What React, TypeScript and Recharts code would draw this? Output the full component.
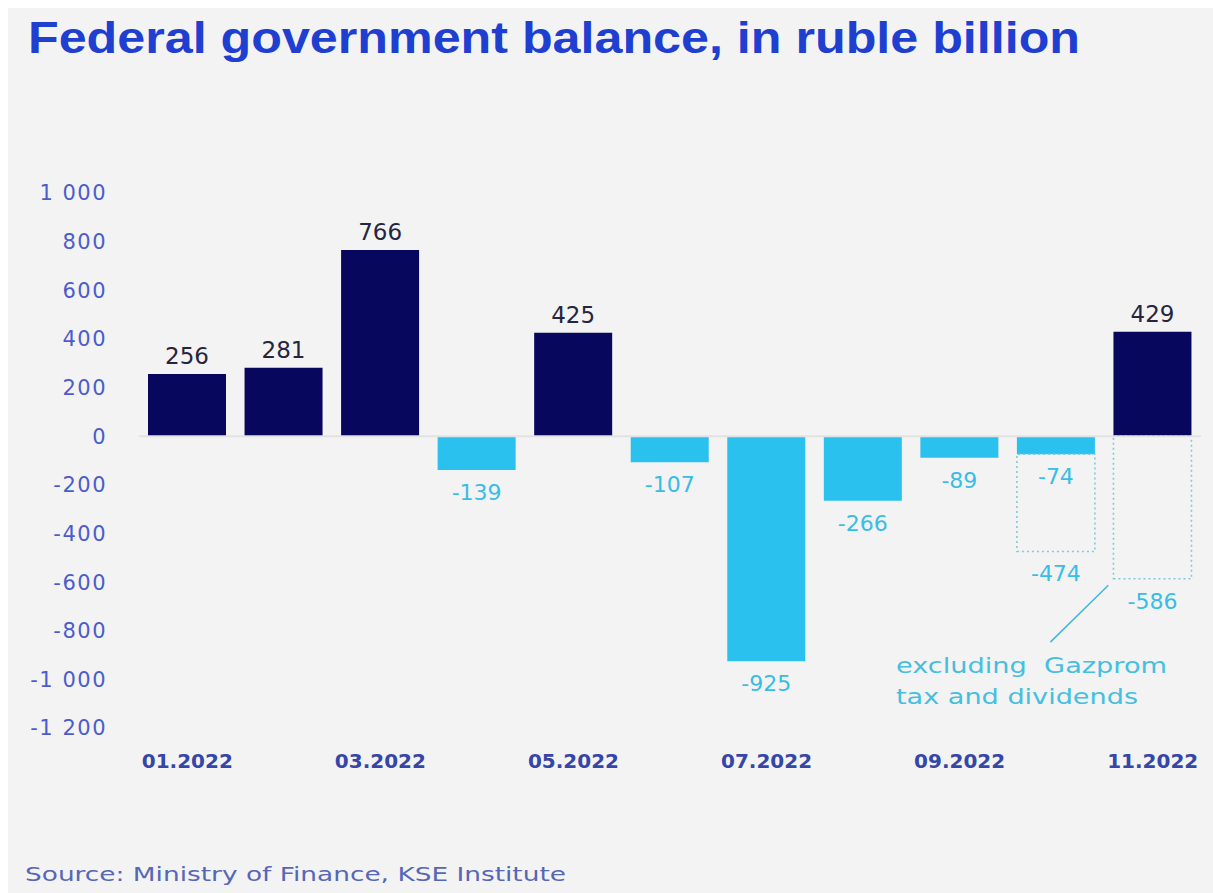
import React from 'react';
import { BarChart, Bar, XAxis, YAxis, Cell, LabelList, ReferenceLine } from 'recharts';

// Monthly federal budget balance, ruble billion
const months = [
  '01.2022', '02.2022', '03.2022', '04.2022', '05.2022', '06.2022',
  '07.2022', '08.2022', '09.2022', '10.2022', '11.2022',
];
const balance = [256, 281, 766, -139, 425, -107, -925, -266, -89, -74, 429];
// Balance excluding Gazprom tax and dividends (reported for Oct and Nov only)
const balanceExGazprom: (number | null)[] = [null, null, null, null, null, null, null, null, null, -474, -586];
const yTicks = [1000, 800, 600, 400, 200, 0, -200, -400, -600, -800, -1000, -1200];
const Y_DOMAIN: [number, number] = [-1200, 1000];

// Pointer from the note to the November dashed box (x in month slots, y in ruble billion)
const notePointer = [
  { x: 9.44, y: -847 },
  { x: 10.04, y: -613 },
];

const NAVY = '#07075e';
const CYAN = '#2bc1ef';
const CYAN_TEXT = '#38bde6';
const DASH = '#80c9e0';
const FONT = '"DejaVu Sans", sans-serif';

// Chart layout
const W = 1213;
const H = 893;
const MARGIN = { top: 193, right: 12, bottom: 115, left: 59 };
const Y_AXIS_W = 80;
const X_AXIS_H = 50;
const PLOT_L = MARGIN.left + Y_AXIS_W;
const PLOT_R = W - MARGIN.right;
const PLOT_T = MARGIN.top;
const PLOT_B = H - MARGIN.bottom - X_AXIS_H;
const slotX = (s: number) => PLOT_L + (s * (PLOT_R - PLOT_L)) / months.length;
const valueY = (v: number) => PLOT_T + ((Y_DOMAIN[1] - v) / (Y_DOMAIN[1] - Y_DOMAIN[0])) * (PLOT_B - PLOT_T);

const data = months.map((month, i) => {
  const value = balance[i];
  const ex = balanceExGazprom[i];
  return {
    month,
    balance: value,
    exTotal: ex,
    // extra depth stacked under the reported balance
    exGap: ex == null ? null : ex - Math.min(value, 0),
  };
});

const fmtTick = (v: number) => {
  const abs = Math.abs(v);
  const s = abs >= 1000 ? `${Math.floor(abs / 1000)} ${String(abs % 1000).padStart(3, '0')}` : String(abs);
  return v < 0 ? `-${s}` : s;
};

const BalanceLabel = (props: any) => {
  const { x, y, width, height, value } = props;
  if (value == null) return null;
  const top = Math.min(y, y + height);
  const bottom = Math.max(y, y + height);
  const cx = x + width / 2;
  if (value >= 0) {
    return (
      <text x={cx} y={top - 10} textAnchor="middle" fill="#25253f" fontSize={23} fontFamily={FONT}>
        {value}
      </text>
    );
  }
  return (
    <text x={cx} y={bottom + 30} textAnchor="middle" fill={CYAN_TEXT} fontSize={22} fontFamily={FONT}>
      {value}
    </text>
  );
};

const ExLabel = (props: any) => {
  const { x, y, width, height, value } = props;
  if (value == null) return null;
  const bottom = Math.max(y, y + height);
  return (
    <text x={x + width / 2} y={bottom + 30} textAnchor="middle" fill={CYAN_TEXT} fontSize={22} fontFamily={FONT}>
      {value}
    </text>
  );
};

export default function App() {
  return (
    <div style={{ position: 'absolute', left: 0, top: 0, width: W, height: H, background: '#ffffff' }}>
      <div style={{ position: 'absolute', left: 8, top: 8, width: W - 8, height: H - 8, background: '#f3f3f3' }} />
      <div style={{ position: 'absolute', left: 0, top: 0 }}>
        <BarChart width={W} height={H} data={data} stackOffset="sign" margin={MARGIN} barSize={78}>
          <XAxis
            dataKey="month"
            interval={1}
            tickLine={false}
            axisLine={false}
            tickSize={0}
            tickMargin={26}
            height={X_AXIS_H}
            tick={{ fill: '#3546a8', fontSize: 20, fontWeight: 'bold', fontFamily: FONT }}
          />
          <YAxis
            domain={Y_DOMAIN}
            ticks={yTicks}
            interval={0}
            width={Y_AXIS_W}
            tickLine={false}
            axisLine={false}
            tickSize={0}
            tickMargin={32}
            tickFormatter={fmtTick}
            tick={{ fill: '#4b5dcc', fontSize: 21, fontFamily: FONT, style: { letterSpacing: 1.5 } }}
          />
          <ReferenceLine y={0} stroke="#e2e2e2" strokeWidth={2} />
          <Bar dataKey="balance" stackId="s" isAnimationActive={false}>
            {data.map((d) => (
              <Cell key={d.month} fill={d.balance >= 0 ? NAVY : CYAN} />
            ))}
            <LabelList dataKey="balance" content={BalanceLabel} />
          </Bar>
          <Bar
            dataKey="exGap"
            stackId="s"
            fill="none"
            stroke={DASH}
            strokeWidth={1.6}
            strokeDasharray="2 3"
            isAnimationActive={false}
          >
            <LabelList dataKey="exTotal" content={ExLabel} />
          </Bar>
        </BarChart>
      </div>
      <svg width={W} height={H} style={{ position: 'absolute', left: 0, top: 0, pointerEvents: 'none' }}>
        <text
          x={28}
          y={53}
          fill="#1f3fd1"
          fontSize={44}
          fontWeight="bold"
          fontFamily='"Liberation Sans", Arial, sans-serif'
          textLength={1052}
          lengthAdjust="spacingAndGlyphs"
        >
          Federal government balance, in ruble billion
        </text>
        <line
          x1={slotX(notePointer[0].x)}
          y1={valueY(notePointer[0].y)}
          x2={slotX(notePointer[1].x)}
          y2={valueY(notePointer[1].y)}
          stroke="#3fb9da"
          strokeWidth={1.5}
        />
        <text x={896} y={673} fill="#45bfe0" fontSize={21} fontFamily={FONT} textLength={271} lengthAdjust="spacingAndGlyphs" style={{ whiteSpace: 'pre' }}>
          {'excluding  Gazprom'}
        </text>
        <text x={896} y={704} fill="#45bfe0" fontSize={21} fontFamily={FONT} textLength={242} lengthAdjust="spacingAndGlyphs">
          tax and dividends
        </text>
        <text x={25} y={881} fill="#5567b5" fontSize={20} fontFamily={FONT} textLength={541} lengthAdjust="spacingAndGlyphs">
          Source: Ministry of Finance, KSE Institute
        </text>
      </svg>
    </div>
  );
}
